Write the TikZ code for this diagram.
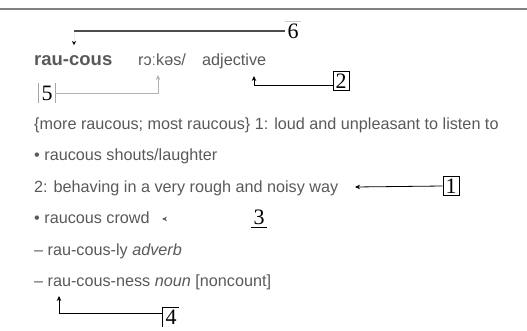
\documentclass[tikz,border=0pt]{standalone}
\usepackage{fontspec}
\setmainfont{Liberation Serif}
\newfontfamily\dictfont{Liberation Sans}
\usepackage{xcolor}
\usetikzlibrary{positioning,arrows.meta}
\definecolor{ink}{gray}{0.35}
\tikzset{
	entry/.style={anchor=base west, inner sep=0pt, text=ink, font=\dictfont\fontsize{16.2}{18}\selectfont},
	tag/.style={inner sep=2.5pt, font=\fontsize{22}{22}\selectfont},
	boxtag/.style={tag, draw, line width=0.8pt, inner sep=2.5pt},
	pointer/.style={line width=0.8pt, -{Stealth[length=5pt,width=4.5pt]}},
}
\begin{document}
\begin{tikzpicture}[x=1pt,y=-1pt]
	\useasboundingbox (0,0) rectangle (527,330);
	\draw[gray, line width=1.5pt] (0,9) -- (527,9);
	% Define nodes
	\node[entry, font=\dictfont\bfseries\fontsize{18.5}{20}\selectfont] (hw) at (34,65) {rau-cous};
	\node[entry] (pron) at (138,65) {rɔːkəs/};
	\node[entry] (pos) at (202,65) {adjective};
	\node[entry] (sense1) at (34,129) {\{more raucous; most raucous\} 1: loud and unpleasant to listen to};
	\node[entry] (ex1) at (34,160) {• raucous shouts/laughter};
	\node[entry] (sense2) at (34,192) {2: behaving in a very rough and noisy way};
	\node[entry] (ex2) at (34,223) {• raucous crowd};
	\node[entry] (adv) at (34,255) {– rau-cous-ly \textit{adverb}};
	\node[entry] (noun) at (34,286) {– rau-cous-ness \textit{noun} [noncount]};
	% tags
	\node[tag] (six) at (293,31) {6};
	\node[boxtag] (two) at (341,81) {2};
	\node[tag] (five) at (47,93) {5};
	\node[boxtag] (one) at (451,186) {1};
	\node[tag] (three) at (259,217) {3};
	\node[tag] (four) at (171,317) {4};
	% arrow tips
	\coordinate (t6) at (74,45);
	\coordinate (t5) at (158,75);
	\coordinate (t2) at (254,76);
	\coordinate (t1) at (355,187);
	\coordinate (t3) at (162,219);
	\coordinate (t4) at (59,296);
	% partial frames
	\draw[gray!40, line width=0.8pt] (six.north west) -- (six.north east);
	\draw[gray!70, line width=0.8pt] (five.north west) -- (five.south west) (five.north east) -- (five.south east);
	\draw[line width=0.8pt] (three.south west) -- (three.south east);
	\draw[line width=0.8pt] (four.south west) -- (four.north west) -- (four.north east);
	% Connect the nodes
	\draw[pointer, gray!15, line width=0.5pt, -{Stealth[length=4pt,width=4pt,color=black]}] (six.west) -| (t6);
	\draw[gray!60!black, line width=1.3pt] (six.west) -- (t6 |- six.west);
	\draw[pointer, gray!60] (five.east) -| (t5);
	\draw[pointer] ([yshift=-4pt]two.west) -| (t2);
	\draw[pointer] (one.west) -- (t1);
	\draw[pointer, white, -{Stealth[length=5pt,width=4.5pt,color=ink]}] (three.west) -- (t3);
	\draw[pointer] ([yshift=4pt]four.west) -| (t4);
\end{tikzpicture}
\end{document}
